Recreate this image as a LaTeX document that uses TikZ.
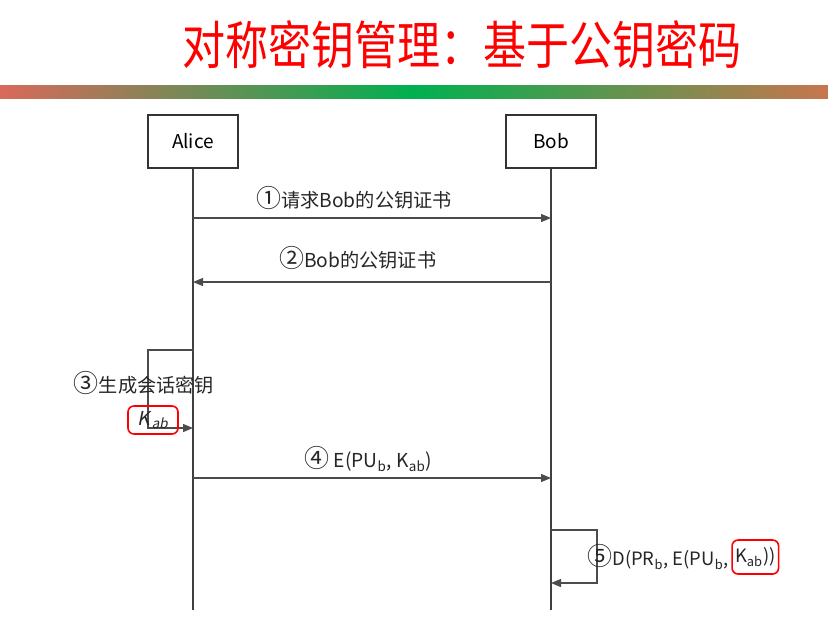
\documentclass[tikz,border=0pt]{standalone}
\usepackage{fontspec}
\usepackage{graphicx}
\newfontfamily\cjk{Noto Sans CJK SC}
\newfontfamily\cjkslant[FakeSlant=0.2]{Noto Sans CJK SC}
\usetikzlibrary{arrows.meta,positioning}
\definecolor{barred}{HTML}{D9695B}
\definecolor{bargreen}{HTML}{00B050}
\definecolor{barbrown}{HTML}{C8764E}
\newcommand{\stepmark}[1]{{\fontsize{12.5}{12}\selectfont #1}}
\tikzset{
  actor box/.style={draw=black!80,line width=1pt,minimum width=45pt,minimum height=26.5pt,font=\cjk\fontsize{9.5}{11}\selectfont},
  life line/.style={line width=0.7pt,black!75},
  message line/.style={line width=0.6pt,black!70,-{Triangle[length=5pt,width=4pt]}},
  message label/.style={font=\cjk\fontsize{9.6}{12}\selectfont,text=black!85,inner sep=1pt},
  key box/.style={draw=red,line width=0.8pt,rounded corners=3pt,inner sep=1pt},
  >=Stealth,
}

\begin{document}
\begin{tikzpicture}[x=0.5pt,y=-0.5pt]
\useasboundingbox (0,0) rectangle (828,628);
% title and bar
\node[text=red,font=\cjk\fontsize{21.5}{26}\selectfont] (title) at (462,45) {\scalebox{1}[1.2]{对称密钥管理：基于公钥密码}};
\shade[left color=barred,right color=barbrown,middle color=bargreen] (0,85) rectangle (828,98);
% actors and lifelines
\node[actor box] (alice) at (193,141) {Alice};
\node[actor box] (bob) at (551,141) {Bob};
\coordinate (alice end) at (193,610);
\coordinate (bob end) at (551,610);
\draw[life line] (alice) -- (alice end);
\draw[life line] (bob) -- (bob end);
% messages between the two
\foreach \n/\y in {1/218,2/282,4/478}{
  \coordinate (a\n) at (193,\y);
  \coordinate (b\n) at (551,\y);
}
\draw[message line] (a1) -- node[message label,above=3pt,pos=0.45] (m1) {\stepmark{①}请求Bob的公钥证书} (b1);
\draw[message line] (b2) -- node[message label,above=5pt,pos=0.54] (m2) {\stepmark{②}Bob的公钥证书} (a2);
\draw[message line] (a4) -- node[message label,above=2pt,pos=0.49] (m4) {\stepmark{④} E(PU\textsubscript{b}, K\textsubscript{ab})} (b4);
% Alice makes the session key
\coordinate (a3 top) at (193,350);
\coordinate (a3 left top) at (148,350);
\coordinate (a3 left bottom) at (148,428);
\coordinate (a3 bottom) at (193,428);
\draw[message line] (a3 top) -- (a3 left top) -- (a3 left bottom) -- (a3 bottom);
\node[message label] (m3) at (144,383) {\stepmark{③}生成会话密钥};
\node[key box,message label,font=\cjkslant\fontsize{9.6}{12}\selectfont,minimum width=25pt,minimum height=14pt,inner sep=0.5pt] (k3) at (153,420) {K\kern1pt\textsubscript{ab}};
% Bob decrypts
\coordinate (b5 top) at (551,530);
\coordinate (b5 right top) at (597,530);
\coordinate (b5 right bottom) at (597,583);
\coordinate (b5 bottom) at (551,583);
\draw[message line] (b5 top) -- (b5 right top) -- (b5 right bottom) -- (b5 bottom);
\node[message label,anchor=west,font=\cjk\fontsize{9.2}{12}\selectfont] (m5) at (585,557) {\stepmark{⑤}D(PR\textsubscript{b}, E(PU\textsubscript{b},};
\node[key box,message label,font=\cjk\fontsize{9.2}{12}\selectfont,inner sep=1.5pt,minimum height=17pt,right=0pt of m5] (k5) {K\textsubscript{ab}))};
\end{tikzpicture}
\end{document}
